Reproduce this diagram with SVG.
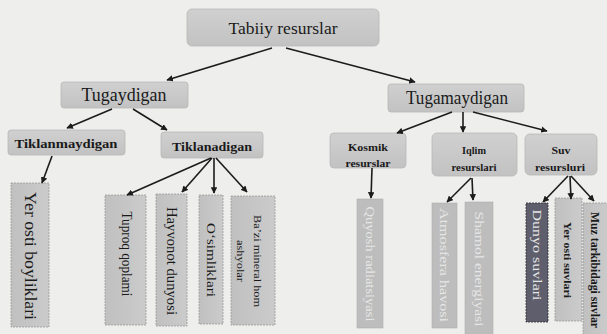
<svg xmlns="http://www.w3.org/2000/svg" width="607" height="334" viewBox="0 0 607 334">
<defs>
<marker id="ah" viewBox="0 0 10 10" refX="9" refY="5" markerWidth="6.5" markerHeight="6.5" markerUnits="userSpaceOnUse" orient="auto">
<path d="M0,0 L10,5 L0,10 z" fill="#1c1c1c"/>
</marker>
<linearGradient id="g1" x1="0" y1="0" x2="0" y2="1">
<stop offset="0" stop-color="#d0d0d0"/>
<stop offset="1" stop-color="#c2c2c2"/>
</linearGradient>
<linearGradient id="g2" x1="0" y1="0" x2="1" y2="0">
<stop offset="0" stop-color="#c0c0c0"/>
<stop offset="1" stop-color="#cbcbcb"/>
</linearGradient>
</defs>
<style>
.bx{fill:url(#g1);stroke:#b8b8b8;stroke-width:0.8}
.vb{fill:url(#g2);stroke:#9a9a9a;stroke-width:0.8;stroke-dasharray:2 1}
.lt{fill:#bdbdbd;stroke:#b0b0b0;stroke-width:0.6}
.t{font-family:"Liberation Serif","Times New Roman",serif;fill:#1a1a1a;text-anchor:middle;dominant-baseline:central}
.tw{font-family:"Liberation Serif","Times New Roman",serif;fill:#e6e6e6;text-anchor:middle;dominant-baseline:central}
.c line{stroke:#1c1c1c;stroke-width:1.6;marker-end:url(#ah)}
</style>
<rect x="0" y="0" width="607" height="334" fill="#eeeeec"/>

<g id="n-tabiiy"><rect class="bx" x="187" y="9" width="192" height="37" rx="5"/><text class="t" x="283" y="28" font-size="17" textLength="109" lengthAdjust="spacingAndGlyphs">Tabiiy resurslar</text></g>
<g id="n-tugaydigan"><rect class="bx" x="61" y="82" width="127" height="26" rx="3"/><text class="t" x="124" y="95" font-size="18" textLength="85" lengthAdjust="spacingAndGlyphs">Tugaydigan</text></g>
<g id="n-tugamaydigan"><rect class="bx" x="388" y="84" width="136" height="28" rx="3"/><text class="t" x="457" y="98" font-size="18" textLength="102" lengthAdjust="spacingAndGlyphs">Tugamaydigan</text></g>
<g id="n-tiklanmaydigan"><rect class="bx" x="8" y="130" width="117" height="25" rx="3"/><text class="t" x="66" y="143" font-size="13.5" font-weight="bold" textLength="103" lengthAdjust="spacingAndGlyphs">Tiklanmaydigan</text></g>
<g id="n-tiklanadigan"><rect class="bx" x="161" y="132" width="102" height="26" rx="3"/><text class="t" x="212" y="146" font-size="13.5" font-weight="bold" textLength="80" lengthAdjust="spacingAndGlyphs">Tiklanadigan</text></g>
<g id="n-kosmik"><rect class="bx" x="330" y="133" width="76" height="35" rx="4"/><text class="t" x="368" y="147" font-size="10.5" font-weight="bold" textLength="40" lengthAdjust="spacingAndGlyphs">Kosmik</text><text class="t" x="368" y="163" font-size="10.5" font-weight="bold" textLength="45" lengthAdjust="spacingAndGlyphs">resurslar</text></g>
<g id="n-iqlim"><rect class="bx" x="432" y="133" width="85" height="43" rx="5"/><text class="t" x="474" y="150" font-size="10.5" font-weight="bold" textLength="24" lengthAdjust="spacingAndGlyphs">Iqlim</text><text class="t" x="474" y="167" font-size="10.5" font-weight="bold" textLength="45" lengthAdjust="spacingAndGlyphs">resurslari</text></g>
<g id="n-suv"><rect class="bx" x="525" y="134" width="72" height="41" rx="5"/><text class="t" x="561" y="150" font-size="10.5" font-weight="bold" textLength="19" lengthAdjust="spacingAndGlyphs">Suv</text><text class="t" x="560" y="167" font-size="10.5" font-weight="bold" textLength="50" lengthAdjust="spacingAndGlyphs">resursluri</text></g>

<g id="n-yerosti"><rect class="vb" x="11" y="183" width="38" height="144"/><text class="t" transform="translate(30,256) rotate(90)" font-size="17" textLength="128" lengthAdjust="spacingAndGlyphs">Yer osti boyliklari</text></g>
<g id="n-tuproq"><rect class="vb" x="105" y="195" width="41" height="130"/><text class="t" transform="translate(126,254) rotate(90)" font-size="14" textLength="85" lengthAdjust="spacingAndGlyphs">Tuproq qoplami</text></g>
<g id="n-hayvonot"><rect class="vb" x="156" y="194" width="31" height="132"/><text class="t" transform="translate(171,261) rotate(90)" font-size="14" textLength="108" lengthAdjust="spacingAndGlyphs">Hayvonot dunyosi</text></g>
<g id="n-osimliklari"><rect class="vb" x="199" y="195" width="24" height="129"/><text class="t" transform="translate(211,260) rotate(90)" font-size="13.5" textLength="74" lengthAdjust="spacingAndGlyphs">O‘simliklari</text></g>
<g id="n-bazi"><rect class="vb" x="231" y="196" width="44" height="129"/><text class="t" transform="translate(257,261) rotate(90)" font-size="10.5" textLength="92" lengthAdjust="spacingAndGlyphs">Ba’zi mineral hom</text><text class="t" transform="translate(240,261) rotate(90)" font-size="10.5" textLength="42" lengthAdjust="spacingAndGlyphs">ashyolar</text></g>
<g id="n-quyosh"><rect class="lt" x="357" y="199" width="26" height="129"/><text class="tw" transform="translate(370,264) rotate(90)" font-size="12.5" textLength="115" lengthAdjust="spacingAndGlyphs">Quyosh radiatsiyasi</text></g>
<g id="n-atmosfera"><rect class="lt" x="432" y="203" width="25" height="125"/><text class="tw" transform="translate(444,265) rotate(90)" font-size="12.5" textLength="114" lengthAdjust="spacingAndGlyphs">Atmosfera havosi</text></g>
<g id="n-shamol"><rect class="lt" x="465" y="202" width="28" height="134"/><text class="tw" transform="translate(479,269) rotate(90)" font-size="12.5" textLength="115" lengthAdjust="spacingAndGlyphs">Shamol energiyasi</text></g>
<g id="n-dunyo"><rect x="526" y="203" width="22" height="119" fill="#5e5e6c" stroke="#2e2e36" stroke-width="0.8" stroke-dasharray="2 1"/><text class="tw" transform="translate(537,255) rotate(90)" font-size="12" fill="#c8c8d0" textLength="91" lengthAdjust="spacingAndGlyphs">Dunyo suvlari</text></g>
<g id="n-yerostisuv"><rect class="vb" x="555" y="198" width="27" height="123"/><text class="t" transform="translate(568,260) rotate(90)" font-size="11" font-weight="bold" textLength="76" lengthAdjust="spacingAndGlyphs">Yer osti suvlari</text></g>
<g id="n-muz"><rect class="vb" x="583" y="203" width="26" height="133"/><text class="t" transform="translate(595,270) rotate(90)" font-size="12" font-weight="bold" textLength="116" lengthAdjust="spacingAndGlyphs">Muz tarkibidagi suvlar</text></g>

<g id="connectors" class="c">
<line x1="272" y1="48" x2="167" y2="80"/>
<line x1="286" y1="48" x2="415" y2="82"/>
<line x1="112" y1="109" x2="67" y2="128"/>
<line x1="133" y1="109" x2="167" y2="130"/>
<line x1="452" y1="112" x2="397" y2="133"/>
<line x1="463" y1="112" x2="463" y2="132"/>
<line x1="473" y1="112" x2="547" y2="131"/>
<line x1="52" y1="156" x2="42" y2="183"/>
<line x1="211" y1="158" x2="127" y2="195"/>
<line x1="212" y1="158" x2="182" y2="192"/>
<line x1="214" y1="158" x2="214" y2="193"/>
<line x1="216" y1="158" x2="247" y2="192"/>
<line x1="372" y1="168" x2="371" y2="198"/>
<line x1="471" y1="178" x2="447" y2="202"/>
<line x1="472" y1="178" x2="473" y2="200"/>
<line x1="568" y1="176" x2="543" y2="202"/>
<line x1="570" y1="176" x2="571" y2="199"/>
<line x1="571" y1="176" x2="594" y2="201"/>
</g>
</svg>
